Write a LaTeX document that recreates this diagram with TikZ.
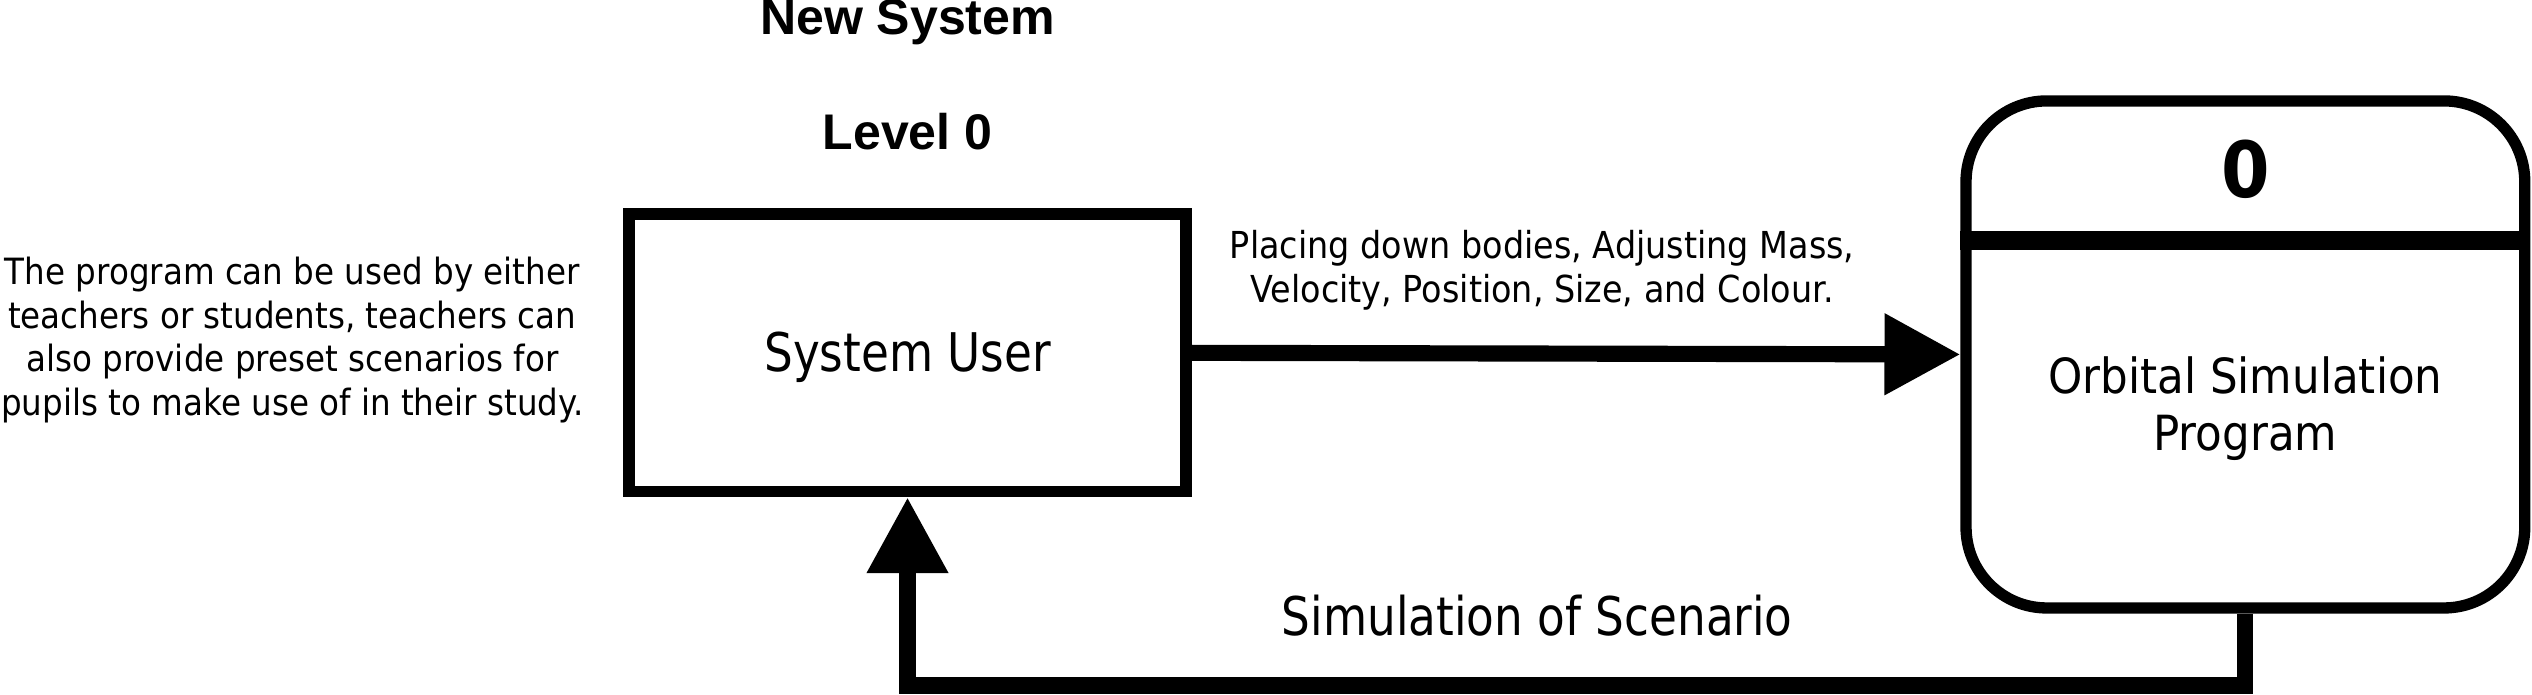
\documentclass[tikz,border=0pt]{standalone}
\usepackage{fontspec}
\setsansfont{Liberation Sans}
\newfontfamily\dejavu[FakeStretch=0.9]{DejaVu Sans}
\newfontfamily\dejavunarrow[FakeStretch=0.85]{DejaVu Sans}
\usetikzlibrary{positioning}
\usetikzlibrary{arrows.meta}

\tikzset{
  entity/.style={draw, line width=7pt, minimum width=345pt, minimum height=172pt, inner sep=0pt},
  process/.style={draw, line width=7pt, rounded corners=50pt, minimum width=346pt, minimum height=314pt, inner sep=0pt},
  flow/.style={line width=10pt, -{Triangle[length=47pt,width=48pt]}},
  title/.style={anchor=base, font=\sffamily\bfseries\fontsize{31}{36}\selectfont},
  note/.style={align=center, font=\dejavu\fontsize{23}{27}\selectfont},
  bignote/.style={align=center, font=\dejavunarrow\fontsize{33}{35}\selectfont},
}

\begin{document}
\begin{tikzpicture}[x=1pt,y=1pt]
\useasboundingbox (0,0) rectangle (1568,430);

% titles
\node[title] (newsys) at (562,408.5) {New System};
\node[title] (level) at (562,337.5) {Level 0};

\node[note, font=\dejavu\fontsize{22.4}{27}\selectfont] (users) at (181,219.5) {The program can be used by either\\teachers or students, teachers can\\also provide preset scenarios for\\pupils to make use of in their study.};

% external entity and process
\node[entity] (user) at (562,211.5) {};
\node[bignote] (username) at ([yshift=-3pt]user.center) {System User};
\node[process] (prog) at (1390.5,210.5) {};
\draw[line width=12pt] ([yshift=70.5pt]prog.west) -- ([yshift=70.5pt]prog.east);
\node[font=\dejavu\bfseries\fontsize{48}{50}\selectfont] (procnum) at (1390.5,325) {0};
\node[align=center, font=\dejavu\fontsize{30}{35}\selectfont] (progname) at (1390.5,177) {Orbital Simulation\\Program};

% data flows
\draw[flow] (user.east) -- (prog.west);
\node[note] (inputs) at (955,262.5) {Placing down bodies, Adjusting Mass,\\Velocity, Position, Size, and Colour.};

\coordinate (bend) at (1390.5,5.5);
\draw[flow] (prog.south) -- (bend) -| (user.south);
\node[bignote] (output) at (952,49) {Simulation of Scenario};

\end{tikzpicture}
\end{document}
